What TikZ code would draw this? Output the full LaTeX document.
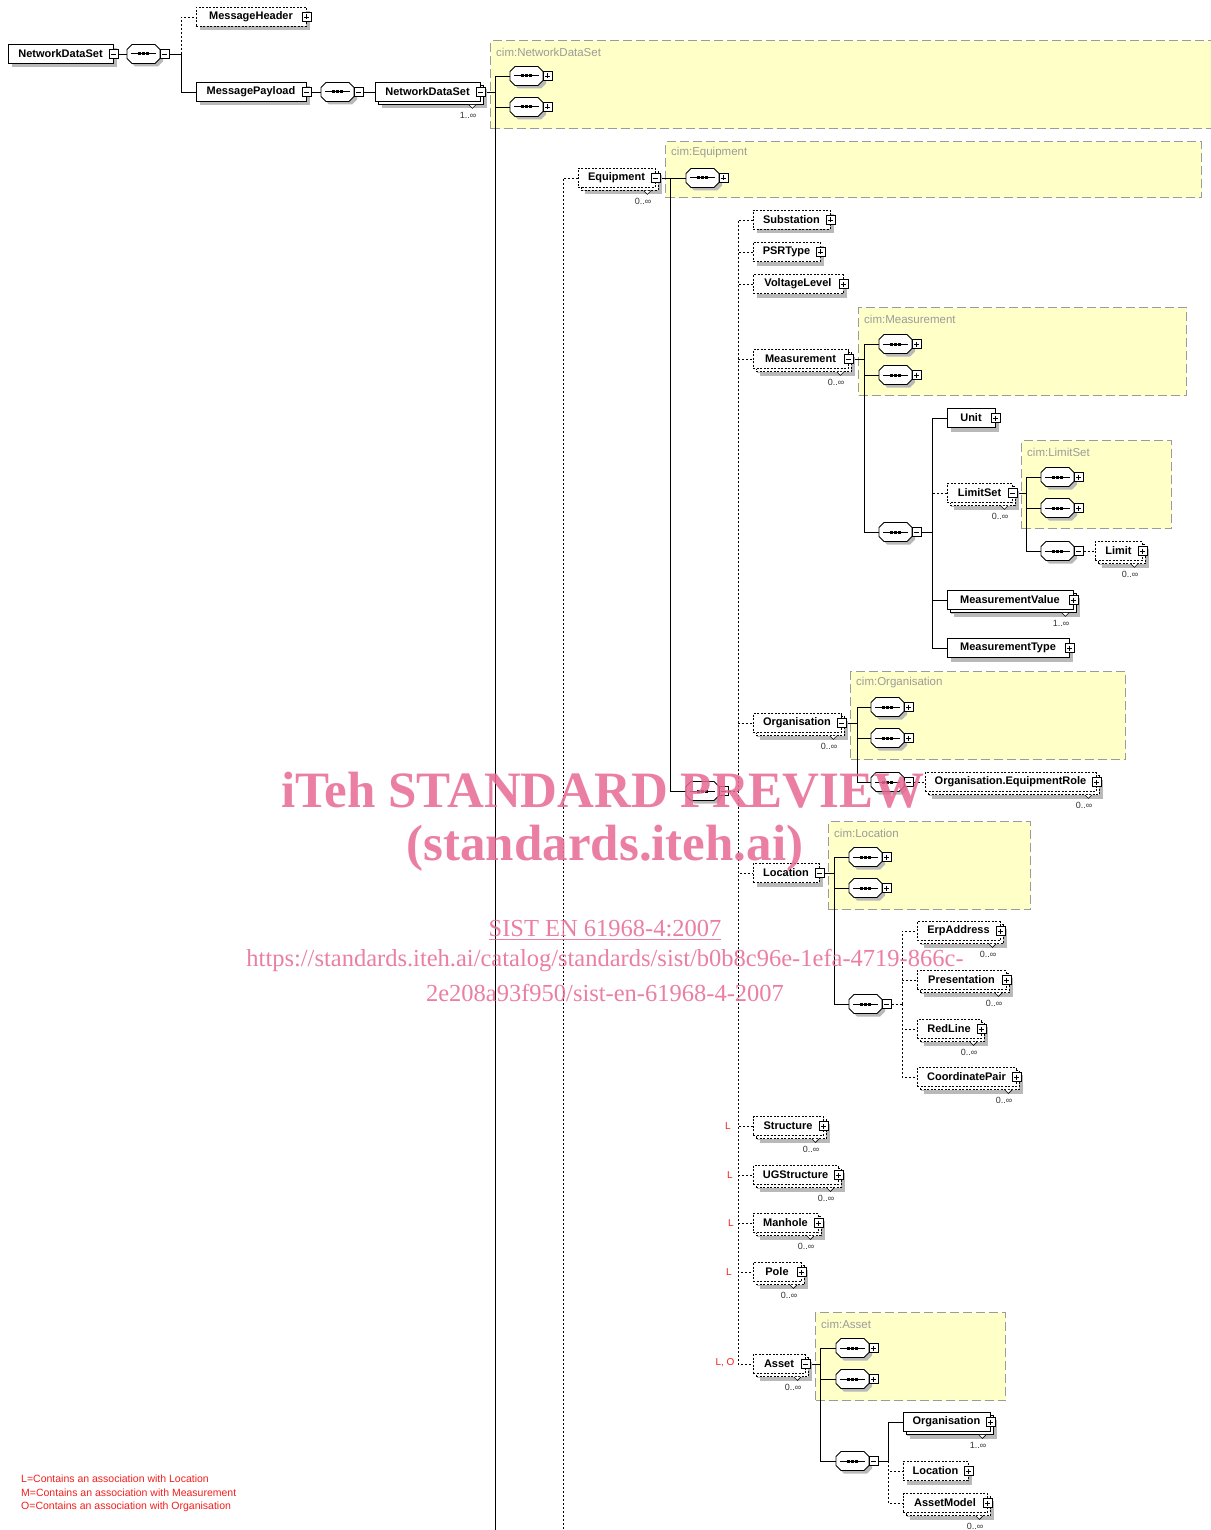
\documentclass[tikz,border=0pt]{standalone}
\usepackage{fontspec}
\setmainfont{Liberation Sans}
\newfontfamily\wmfont{Liberation Serif}
\usetikzlibrary{shadows}
\pgfdeclarelayer{back}
\pgfdeclarelayer{bg}
\pgfsetlayers{back,bg,main}
\definecolor{cimyellow}{RGB}{255,255,200}
\definecolor{cimgray}{RGB}{155,155,155}
\definecolor{shd}{RGB}{185,185,185}
\definecolor{wm}{RGB}{232,105,148}
\definecolor{legred}{RGB}{245,30,30}
\newcommand\XEl[7]{%
  \node[elem,#5,minimum width=#4pt] (#1) at (#2,#3) {#6\hspace{6pt}};
  \node[#7] (#1-s) at (#1.east) {};}
\newcommand\XCard[2]{%
  \draw[line width=0.6pt, fill=white] ([xshift=-11.5pt,yshift=-3pt]#1.south east) -- ([xshift=-8pt,yshift=-6.5pt]#1.south east) -- ([xshift=-4.5pt,yshift=-3pt]#1.south east);
  \node[card, anchor=east] (#1-c) at ([xshift=-4pt,yshift=-13.5pt]#1.south east) {#2};}
\newcommand\XOct{(-11.5,-9.5) -- (11.5,-9.5) -- (16.5,-4.5) -- (16.5,4.5) -- (11.5,9.5) -- (-11.5,9.5) -- (-16.5,4.5) -- (-16.5,-4.5) -- cycle}
\newcommand\XSq[4]{%
  \node[seqn] (#1) at (#2,#3) {};
  \begin{scope}[shift={(#2,#3)}]
    \fill[shd] [shift={(3,3)}] \XOct;
    \draw[line width=0.8pt, fill=white] \XOct;
    \draw[line width=1pt] (-12.5,0) -- (12.5,0);
    \foreach \dd in {-3.8,0,3.8}{\fill[shift={(\dd,0)}] (-1.5,-1.5) rectangle (1.5,1.5);}
  \end{scope}
  \node[#4] (#1-s) at ([xshift=4.5pt]#1.east) {};}
\begin{document}
\begin{tikzpicture}[x=1pt,y=-1pt,
  elem/.style={draw, fill=white, line width=0.8pt, minimum height=19pt, inner sep=0pt,
    font=\fontsize{11}{13}\selectfont\bfseries,
    general shadow={fill=shd, draw=none, shadow xshift=4pt, shadow yshift=-4pt}},
  opt/.style={dash pattern=on 2pt off 1.5pt},
  multi/.style={general shadow={fill=shd, draw=none, shadow xshift=7pt, shadow yshift=-7pt},
    general shadow={fill=white, draw=black, solid, line width=0.8pt, shadow xshift=3pt, shadow yshift=-3pt}},
  multid/.style={opt, general shadow={fill=shd, draw=none, shadow xshift=7pt, shadow yshift=-7pt},
    general shadow={fill=white, draw=black, line width=0.8pt, dash pattern=on 2pt off 1.5pt, shadow xshift=3pt, shadow yshift=-3pt}},
  seqn/.style={rectangle, draw=none, minimum width=33pt, minimum height=19pt, inner sep=0pt},
  sgn/.style={draw, fill=white, line width=0.7pt, minimum size=9pt, inner sep=0pt},
  splus/.style={sgn, path picture={\draw[line width=0.7pt] ([xshift=2pt]path picture bounding box.west) -- ([xshift=-2pt]path picture bounding box.east) ([yshift=-2pt]path picture bounding box.north) -- ([yshift=2pt]path picture bounding box.south);}},
  sminus/.style={sgn, path picture={\draw[line width=0.7pt] ([xshift=2pt]path picture bounding box.west) -- ([xshift=-2pt]path picture bounding box.east);}},
  card/.style={font=\fontsize{9}{10}\selectfont, text=black!80, inner sep=0pt},
  cimbox/.style={draw=cimgray, fill=cimyellow, line width=1.1pt, dash pattern=on 9pt off 4pt, inner sep=0pt, anchor=north west},
  cimlbl/.style={font=\fontsize{11.5}{12}\selectfont, text=cimgray, inner sep=0pt, anchor=west},
  con/.style={line width=0.8pt},
  dcon/.style={line width=0.8pt, dash pattern=on 2pt off 2pt},
  redl/.style={text=legred, font=\fontsize{10}{12}\selectfont, inner sep=0pt},
  wmtext/.style={text=wm, text opacity=0.85, inner sep=0pt}
]
\useasboundingbox (0,0) rectangle (1210,1530);
\begin{pgfonlayer}{back}
\fill[white] (0,0) rectangle (1210,1530);
\node[cimbox, minimum width=722pt, minimum height=88pt] (cNDS) at (490,40) {};
\node[cimbox, minimum width=536pt, minimum height=56pt] (cEq) at (665,141) {};
\node[cimbox, minimum width=328pt, minimum height=88pt] (cMeas) at (858,307) {};
\node[cimbox, minimum width=150pt, minimum height=88pt] (cLS) at (1021,440) {};
\node[cimbox, minimum width=275pt, minimum height=88pt] (cOrg) at (850,671) {};
\node[cimbox, minimum width=202pt, minimum height=88pt] (cLoc) at (828,821) {};
\node[cimbox, minimum width=190pt, minimum height=88pt] (cAs) at (815,1312) {};
\node[cimlbl] (cNDS-l) at ([xshift=6pt,yshift=-12pt]cNDS.north west) {cim:NetworkDataSet};
\node[cimlbl] (cEq-l) at ([xshift=6pt,yshift=-12pt]cEq.north west) {cim:Equipment};
\node[cimlbl] (cMeas-l) at ([xshift=6pt,yshift=-12pt]cMeas.north west) {cim:Measurement};
\node[cimlbl] (cLS-l) at ([xshift=6pt,yshift=-12pt]cLS.north west) {cim:LimitSet};
\node[cimlbl] (cOrg-l) at ([xshift=6pt,yshift=-12pt]cOrg.north west) {cim:Organisation};
\node[cimlbl] (cLoc-l) at ([xshift=6pt,yshift=-12pt]cLoc.north west) {cim:Location};
\node[cimlbl] (cAs-l) at ([xshift=6pt,yshift=-12pt]cAs.north west) {cim:Asset};
\end{pgfonlayer}

% elements
\XEl{root}{60.5}{54}{105}{}{NetworkDataSet}{sminus}
\XEl{mh}{251}{17}{110}{opt}{MessageHeader}{splus}
\XEl{mp}{251}{92}{110}{}{MessagePayload}{sminus}
\XEl{nds}{427.5}{92}{105}{multi}{NetworkDataSet}{sminus}\XCard{nds}{1..∞}
\XEl{eq}{616.5}{178}{77}{multid}{Equipment}{sminus}\XCard{eq}{0..∞}
\XEl{sub}{791.5}{220}{77}{opt}{Substation}{splus}
\XEl{psr}{786.5}{252}{67}{opt}{PSRType}{splus}
\XEl{vl}{798}{284}{90}{opt}{VoltageLevel}{splus}
\XEl{meas}{800.5}{359}{95}{multid}{Measurement}{sminus}\XCard{meas}{0..∞}
\XEl{unit}{971}{418}{48}{}{Unit}{splus}
\XEl{ls}{979.5}{493}{65}{multid}{LimitSet}{sminus}\XCard{ls}{0..∞}
\XEl{lim}{1118.5}{551}{47}{multid}{Limit}{splus}\XCard{lim}{0..∞}
\XEl{mv}{1010}{600}{126}{multi}{MeasurementValue}{splus}\XCard{mv}{1..∞}
\XEl{mt}{1008}{648}{122}{}{MeasurementType}{splus}
\XEl{org}{797}{723}{88}{multid}{Organisation}{sminus}\XCard{org}{0..∞}
\XEl{oer}{1010.5}{782}{171}{multid}{Organisation.EquipmentRole}{splus}\XCard{oer}{0..∞}
\XEl{loc}{786}{873}{66}{opt}{Location}{sminus}
\XEl{erp}{958.5}{931}{83}{multid}{ErpAddress}{splus}\XCard{erp}{0..∞}
\XEl{pres}{961.5}{980}{89}{multid}{Presentation}{splus}\XCard{pres}{0..∞}
\XEl{rl}{949}{1029}{64}{multid}{RedLine}{splus}\XCard{rl}{0..∞}
\XEl{cp}{966.5}{1077}{99}{multid}{CoordinatePair}{splus}\XCard{cp}{0..∞}
\XEl{str}{788}{1126}{70}{multid}{Structure}{splus}\XCard{str}{0..∞}
\XEl{ugs}{795.5}{1175}{85}{multid}{UGStructure}{splus}\XCard{ugs}{0..∞}
\XEl{mh2}{785.5}{1223}{65}{multid}{Manhole}{splus}\XCard{mh2}{0..∞}
\XEl{pole}{777}{1272}{48}{multid}{Pole}{splus}\XCard{pole}{0..∞}
\XEl{asset}{779}{1364}{52}{multid}{Asset}{sminus}\XCard{asset}{0..∞}
\XEl{aorg}{946.5}{1422}{87}{multi}{Organisation}{splus}\XCard{aorg}{1..∞}
\XEl{aloc}{935.5}{1471}{65}{opt}{Location}{splus}
\XEl{am}{945}{1503}{84}{multid}{AssetModel}{splus}\XCard{am}{0..∞}

% sequences
\XSq{sA}{143.5}{54}{sminus}
\XSq{sB}{337.5}{92}{sminus}
\XSq{sN1}{526.5}{76}{splus}
\XSq{sN2}{526.5}{107}{splus}
\XSq{sE1}{702.5}{178}{splus}
\XSq{sE2}{702.5}{791}{sminus}
\XSq{sM1}{895.5}{344}{splus}
\XSq{sM2}{895.5}{375}{splus}
\XSq{sM3}{895.5}{532}{sminus}
\XSq{sL1}{1057.5}{477}{splus}
\XSq{sL2}{1057.5}{508}{splus}
\XSq{sL3}{1057.5}{551}{sminus}
\XSq{sO1}{887.5}{707}{splus}
\XSq{sO2}{887.5}{738}{splus}
\XSq{sO3}{887.5}{782}{sminus}
\XSq{sC1}{865.5}{857}{splus}
\XSq{sC2}{865.5}{888}{splus}
\XSq{sC3}{865.5}{1004}{sminus}
\XSq{sA1}{852.5}{1348}{splus}
\XSq{sA2}{852.5}{1379}{splus}
\XSq{sA3}{852.5}{1461}{sminus}

% connectors
\begin{pgfonlayer}{bg}
\coordinate (bot) at (0,1530);
\coordinate (jA) at (181,54);
\coordinate (jN) at (495,92);
\coordinate (jQ) at (563,178);
\coordinate (jE) at (670,178);
\coordinate (jD) at (738,791);
\coordinate (jM) at (864,359);
\coordinate (jM3) at (932,532);
\coordinate (jL) at (1026,493);
\coordinate (jO) at (857,723);
\coordinate (jC) at (834,873);
\coordinate (jC3) at (902,1004);
\coordinate (jS) at (820,1364);
\coordinate (jS3) at (888,1461);
\draw[con] (root-s.east) -- (sA.west);
\draw[con] (sA-s.east) -- (jA) |- (mp.west);
\draw[dcon] (jA) |- (mh.west);
\draw[con] (mp-s.east) -- (sB.west);
\draw[con] (sB-s.east) -- (nds.west);
\draw[con] (nds-s.east) -- (jN) -- (jN |- bot);
\draw[con] (jN) |- (sN1.west);
\draw[con] (jN) |- (sN2.west);
\draw[dcon] (eq.west) -- (jQ) -- (jQ |- bot);
\draw[con] (eq-s.east) -- (sE1.west);
\draw[con] (jE) |- (sE2.west);
\draw[dcon] (sE2-s.east) -- (jD);
\foreach \n in {sub,psr,vl,meas,org,loc,str,ugs,mh2,pole,asset}{\draw[dcon] (jD) |- (\n.west);}
\draw[con] (meas-s.east) -- (jM);
\foreach \n in {sM1,sM2,sM3}{\draw[con] (jM) |- (\n.west);}
\draw[con] (sM3-s.east) -- (jM3);
\draw[con] (jM3) |- (unit.west);
\draw[con] (jM3) |- (mv.west);
\draw[con] (jM3) |- (mt.west);
\draw[dcon] (jM3) |- (ls.west);
\draw[con] (ls-s.east) -- (jL);
\foreach \n in {sL1,sL2,sL3}{\draw[con] (jL) |- (\n.west);}
\draw[dcon] (sL3-s.east) -- (lim.west);
\draw[con] (org-s.east) -- (jO);
\foreach \n in {sO1,sO2,sO3}{\draw[con] (jO) |- (\n.west);}
\draw[dcon] (sO3-s.east) -- (oer.west);
\draw[con] (loc-s.east) -- (jC);
\foreach \n in {sC1,sC2,sC3}{\draw[con] (jC) |- (\n.west);}
\draw[dcon] (sC3-s.east) -- (jC3);
\foreach \n in {erp,pres,rl,cp}{\draw[dcon] (jC3) |- (\n.west);}
\draw[con] (asset-s.east) -- (jS);
\foreach \n in {sA1,sA2,sA3}{\draw[con] (jS) |- (\n.west);}
\draw[con] (sA3-s.east) -- (jS3);
\draw[con] (jS3) |- (aorg.west);
\draw[dcon] (jS3) |- (aloc.west);
\draw[dcon] (jS3) |- (am.west);
\end{pgfonlayer}

% red markers
\node[redl] (rS) at (728,1126) {L};
\node[redl] (rU) at (730,1175) {L};
\node[redl] (rM) at (731,1223) {L};
\node[redl] (rP) at (729,1272) {L};
\node[redl] (rA) at (725,1363) {L, O};
\node[redl, anchor=north west, align=left, font=\fontsize{10.5}{13.5}\selectfont] (legend) at (21,1475)
  {L=Contains an association with Location\\M=Contains an association with Measurement\\O=Contains an association with Organisation};

% watermark
\node[wmtext, font=\wmfont\bfseries\fontsize{51}{51}\selectfont] (wm1) at (603,790) {iTeh STANDARD PREVIEW};
\node[wmtext, font=\wmfont\bfseries\fontsize{51}{51}\selectfont] (wm2) at (605,848) {(standards.iteh.ai)};
\node[wmtext, font=\wmfont\fontsize{24.5}{26}\selectfont] (wm3) at (605,930) {\underline{SIST EN 61968-4:2007}};
\node[wmtext, font=\wmfont\fontsize{24.5}{26}\selectfont] (wm4) at (605,961) {https://standards.iteh.ai/catalog/standards/sist/b0b8c96e-1efa-4719-866c-};
\node[wmtext, font=\wmfont\fontsize{24.5}{26}\selectfont] (wm5) at (605,993) {2e208a93f950/sist-en-61968-4-2007};
\end{tikzpicture}
\end{document}
